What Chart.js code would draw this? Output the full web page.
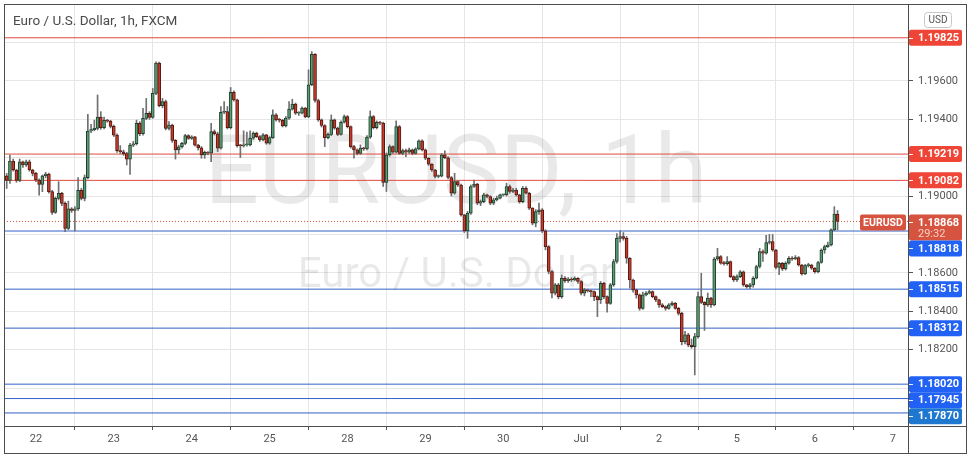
<!DOCTYPE html>
<html>
<head>
<meta charset="utf-8">
<script src="https://cdn.jsdelivr.net/npm/chart.js@4.4.0/dist/chart.umd.min.js"></script>
<style>
  html, body { margin: 0; padding: 0; background: #fff; }
  #wrap { width: 973px; height: 458px; position: relative; }
</style>
</head>
<body>
<div id="wrap"><canvas id="chart" width="973" height="458"></canvas></div>
<script>
// EUR/USD hourly candles, 21 Jun 15:00 -> 6 Jul 08:00 (weekend hours skipped)
var opens = [
1.19106,1.19082,1.19183,1.19136,1.19082,1.19179,1.19162,1.19179,1.19136,1.19118,
1.19084,1.19061,1.19106,1.19115,1.19023,1.18915,1.18988,1.19014,1.18962,1.18832,
1.18933,1.18926,1.18933,1.19030,1.18988,1.19096,1.19339,1.19346,1.19353,1.19412,
1.19356,1.19395,1.19391,1.19363,1.19318,1.19237,1.19231,1.19221,1.19193,1.19266,
1.19273,1.19379,1.19325,1.19405,1.19431,1.19410,1.19535,1.19693,1.19471,1.19492,
1.19353,1.19370,1.19290,1.19240,1.19257,1.19275,1.19315,1.19301,1.19309,1.19266,
1.19252,1.19214,1.19228,1.19224,1.19336,1.19325,1.19250,1.19437,1.19441,1.19357,
1.19541,1.19501,1.19263,1.19262,1.19267,1.19267,1.19302,1.19328,1.19310,1.19293,
1.19319,1.19276,1.19305,1.19423,1.19397,1.19395,1.19366,1.19406,1.19453,1.19479,
1.19432,1.19432,1.19458,1.19413,1.19580,1.19739,1.19498,1.19397,1.19368,1.19305,
1.19322,1.19397,1.19354,1.19322,1.19385,1.19415,1.19362,1.19258,1.19241,1.19223,
1.19250,1.19246,1.19307,1.19415,1.19357,1.19385,1.19380,1.19071,1.19215,1.19258,
1.19229,1.19362,1.19223,1.19237,1.19229,1.19241,1.19223,1.19246,1.19288,1.19241,
1.19197,1.19166,1.19136,1.19102,1.19104,1.19215,1.19200,1.19097,1.19015,1.19076,
1.19058,1.18902,1.18819,1.18911,1.19050,1.19062,1.18963,1.18971,1.19006,1.18998,
1.18963,1.18980,1.18989,1.19006,1.19006,1.19050,1.19024,1.19032,1.19006,1.18971,
1.19041,1.19015,1.18937,1.18859,1.18919,1.18928,1.18819,1.18737,1.18607,1.18494,
1.18537,1.18476,1.18572,1.18559,1.18568,1.18563,1.18572,1.18555,1.18494,1.18511,
1.18506,1.18502,1.18476,1.18459,1.18546,1.18476,1.18441,1.18537,1.18659,1.18780,
1.18789,1.18780,1.18676,1.18563,1.18511,1.18485,1.18415,1.18485,1.18494,1.18502,
1.18476,1.18459,1.18433,1.18424,1.18415,1.18433,1.18442,1.18415,1.18389,1.18242,
1.18277,1.18224,1.18216,1.18268,1.18476,1.18446,1.18433,1.18468,1.18433,1.18672,
1.18685,1.18650,1.18648,1.18659,1.18580,1.18563,1.18580,1.18606,1.18537,1.18528,
1.18537,1.18572,1.18633,1.18711,1.18702,1.18758,1.18763,1.18719,1.18628,1.18650,
1.18620,1.18650,1.18676,1.18672,1.18680,1.18641,1.18594,1.18638,1.18641,1.18624,
1.18606,1.18654,1.18719,1.18737,1.18745,1.18824,1.18906
];
var highs = [
1.19118,1.19214,1.19193,1.19140,1.19193,1.19183,1.19188,1.19188,1.19140,1.19124,
1.19090,1.19110,1.19124,1.19120,1.19030,1.18995,1.19075,1.19020,1.18970,1.18974,
1.18940,1.18945,1.19096,1.19040,1.19110,1.19426,1.19374,1.19396,1.19527,1.19440,
1.19412,1.19400,1.19395,1.19370,1.19325,1.19263,1.19240,1.19228,1.19275,1.19285,
1.19396,1.19388,1.19457,1.19509,1.19440,1.19561,1.19700,1.19698,1.19509,1.19500,
1.19388,1.19375,1.19295,1.19265,1.19280,1.19322,1.19320,1.19315,1.19312,1.19270,
1.19258,1.19235,1.19232,1.19379,1.19345,1.19333,1.19467,1.19493,1.19467,1.19566,
1.19548,1.19505,1.19270,1.19340,1.19333,1.19340,1.19335,1.19333,1.19315,1.19326,
1.19322,1.19310,1.19449,1.19430,1.19405,1.19400,1.19415,1.19493,1.19505,1.19485,
1.19440,1.19465,1.19462,1.19658,1.19753,1.19742,1.19505,1.19402,1.19372,1.19330,
1.19423,1.19402,1.19360,1.19392,1.19423,1.19420,1.19366,1.19265,1.19246,1.19267,
1.19255,1.19315,1.19444,1.19420,1.19392,1.19390,1.19385,1.19225,1.19267,1.19262,
1.19392,1.19368,1.19245,1.19245,1.19250,1.19246,1.19252,1.19293,1.19293,1.19246,
1.19200,1.19170,1.19140,1.19110,1.19223,1.19236,1.19206,1.19102,1.19119,1.19080,
1.19062,1.18905,1.18920,1.19058,1.19084,1.19067,1.18980,1.19015,1.19010,1.19002,
1.18990,1.19000,1.19010,1.19010,1.19067,1.19058,1.19040,1.19041,1.19010,1.19050,
1.19050,1.19020,1.18940,1.18930,1.18963,1.18935,1.18825,1.18742,1.18612,1.18545,
1.18545,1.18589,1.18580,1.18576,1.18575,1.18580,1.18576,1.18560,1.18520,1.18515,
1.18510,1.18506,1.18480,1.18555,1.18550,1.18480,1.18545,1.18670,1.18805,1.18819,
1.18810,1.18790,1.18680,1.18568,1.18515,1.18490,1.18500,1.18502,1.18511,1.18506,
1.18480,1.18463,1.18440,1.18428,1.18440,1.18450,1.18446,1.18420,1.18395,1.18295,
1.18285,1.18255,1.18285,1.18500,1.18598,1.18450,1.18495,1.18472,1.18680,1.18728,
1.18690,1.18660,1.18685,1.18662,1.18585,1.18590,1.18612,1.18610,1.18540,1.18545,
1.18580,1.18640,1.18728,1.18720,1.18795,1.18800,1.18800,1.18722,1.18655,1.18655,
1.18658,1.18685,1.18685,1.18690,1.18685,1.18645,1.18645,1.18650,1.18645,1.18628,
1.18660,1.18725,1.18745,1.18760,1.18830,1.18945,1.18925
];
var lows = [
1.19040,1.19066,1.19130,1.19072,1.19075,1.19150,1.19155,1.19130,1.19105,1.19075,
1.19005,1.19023,1.19095,1.19015,1.18905,1.18910,1.18980,1.18950,1.18814,1.18825,
1.18915,1.18818,1.18925,1.18980,1.18975,1.19090,1.19330,1.19340,1.19345,1.19348,
1.19350,1.19385,1.19355,1.19310,1.19228,1.19222,1.19212,1.19162,1.19113,1.19258,
1.19266,1.19315,1.19318,1.19398,1.19400,1.19405,1.19528,1.19465,1.19460,1.19345,
1.19345,1.19280,1.19193,1.19221,1.19250,1.19268,1.19295,1.19295,1.19260,1.19240,
1.19197,1.19197,1.19215,1.19179,1.19318,1.19232,1.19245,1.19430,1.19350,1.19350,
1.19495,1.19255,1.19201,1.19255,1.19260,1.19262,1.19295,1.19305,1.19285,1.19288,
1.19270,1.19270,1.19300,1.19390,1.19385,1.19360,1.19360,1.19400,1.19448,1.19425,
1.19420,1.19428,1.19408,1.19408,1.19575,1.19490,1.19390,1.19360,1.19258,1.19298,
1.19315,1.19348,1.19315,1.19318,1.19380,1.19355,1.19250,1.19197,1.19215,1.19218,
1.19238,1.19240,1.19300,1.19350,1.19350,1.19372,1.19050,1.19024,1.19208,1.19222,
1.19225,1.19218,1.19215,1.19205,1.19222,1.19215,1.19218,1.19240,1.19235,1.19190,
1.19160,1.19128,1.19095,1.19095,1.19100,1.19195,1.19090,1.19000,1.19010,1.19050,
1.18895,1.18810,1.18780,1.18905,1.19045,1.18955,1.18950,1.18965,1.18990,1.18955,
1.18955,1.18975,1.18985,1.19000,1.19000,1.19015,1.19018,1.19000,1.18963,1.18965,
1.19010,1.18930,1.18850,1.18840,1.18905,1.18810,1.18720,1.18595,1.18470,1.18485,
1.18465,1.18468,1.18550,1.18550,1.18555,1.18558,1.18545,1.18485,1.18480,1.18500,
1.18476,1.18455,1.18372,1.18440,1.18465,1.18395,1.18436,1.18530,1.18650,1.18760,
1.18770,1.18650,1.18520,1.18500,1.18468,1.18405,1.18410,1.18480,1.18490,1.18470,
1.18450,1.18420,1.18418,1.18405,1.18410,1.18428,1.18410,1.18380,1.18225,1.18230,
1.18215,1.18207,1.18068,1.18260,1.18440,1.18300,1.18425,1.18420,1.18428,1.18665,
1.18645,1.18640,1.18640,1.18575,1.18555,1.18555,1.18575,1.18530,1.18520,1.18518,
1.18525,1.18568,1.18625,1.18660,1.18698,1.18750,1.18712,1.18620,1.18590,1.18612,
1.18615,1.18645,1.18665,1.18668,1.18635,1.18588,1.18590,1.18630,1.18618,1.18598,
1.18600,1.18650,1.18702,1.18732,1.18740,1.18820,1.18824
];
var closes = [
1.19082,1.19183,1.19136,1.19082,1.19179,1.19162,1.19179,1.19136,1.19118,1.19084,
1.19061,1.19106,1.19115,1.19023,1.18915,1.18988,1.19014,1.18962,1.18832,1.18933,
1.18926,1.18933,1.19030,1.18988,1.19096,1.19339,1.19346,1.19353,1.19412,1.19356,
1.19395,1.19391,1.19363,1.19318,1.19237,1.19231,1.19221,1.19193,1.19266,1.19273,
1.19379,1.19325,1.19405,1.19431,1.19410,1.19535,1.19693,1.19471,1.19492,1.19353,
1.19370,1.19290,1.19240,1.19257,1.19275,1.19315,1.19301,1.19309,1.19266,1.19252,
1.19214,1.19228,1.19224,1.19336,1.19325,1.19250,1.19437,1.19441,1.19357,1.19541,
1.19501,1.19263,1.19262,1.19267,1.19267,1.19302,1.19328,1.19310,1.19293,1.19319,
1.19276,1.19305,1.19423,1.19397,1.19395,1.19366,1.19406,1.19453,1.19479,1.19432,
1.19432,1.19458,1.19413,1.19580,1.19739,1.19498,1.19397,1.19368,1.19305,1.19322,
1.19397,1.19354,1.19322,1.19385,1.19415,1.19362,1.19258,1.19241,1.19223,1.19250,
1.19246,1.19307,1.19415,1.19357,1.19385,1.19380,1.19071,1.19215,1.19258,1.19229,
1.19362,1.19223,1.19237,1.19229,1.19241,1.19223,1.19246,1.19288,1.19241,1.19197,
1.19166,1.19136,1.19102,1.19104,1.19215,1.19200,1.19097,1.19015,1.19076,1.19058,
1.18902,1.18819,1.18911,1.19050,1.19062,1.18963,1.18971,1.19006,1.18998,1.18963,
1.18980,1.18989,1.19006,1.19006,1.19050,1.19024,1.19032,1.19006,1.18971,1.19041,
1.19015,1.18937,1.18859,1.18919,1.18928,1.18819,1.18737,1.18607,1.18494,1.18537,
1.18476,1.18572,1.18559,1.18568,1.18563,1.18572,1.18555,1.18494,1.18511,1.18506,
1.18502,1.18476,1.18459,1.18546,1.18476,1.18441,1.18537,1.18659,1.18780,1.18789,
1.18780,1.18676,1.18563,1.18511,1.18485,1.18415,1.18485,1.18494,1.18502,1.18476,
1.18459,1.18433,1.18424,1.18415,1.18433,1.18442,1.18415,1.18389,1.18242,1.18277,
1.18224,1.18216,1.18268,1.18476,1.18446,1.18433,1.18468,1.18433,1.18672,1.18685,
1.18650,1.18648,1.18659,1.18580,1.18563,1.18580,1.18606,1.18537,1.18528,1.18537,
1.18572,1.18633,1.18711,1.18702,1.18758,1.18763,1.18719,1.18628,1.18650,1.18620,
1.18650,1.18676,1.18672,1.18680,1.18641,1.18594,1.18638,1.18641,1.18624,1.18606,
1.18654,1.18719,1.18737,1.18745,1.18824,1.18906,1.18868
];

// day ticks (candle index of 00:00) and their labels
var dayIdx = [9, 33, 57, 81, 105, 129, 153, 177, 201, 225, 249, 273];
var dayLabels = ['22', '23', '24', '25', '28', '29', '30', 'Jul', '2', '5', '6', '7'];
var priceTicks = [1.180, 1.182, 1.184, 1.186, 1.188, 1.190, 1.192, 1.194, 1.196, 1.198];

// horizontal levels
var redLevels = [1.19825, 1.19219, 1.19082];
var blueLevels = [1.18818, 1.18515, 1.18312, 1.18020, 1.17945, 1.17870];
var lastPrice = 1.18868;
var countdown = '29:32';
var symbol = 'EURUSD';
var title = 'Euro / U.S. Dollar, 1h, FXCM';
var watermark = ['EURUSD, 1h', 'Euro / U.S. Dollar'];

var FONT = 'Roboto, "Liberation Sans", Arial, sans-serif';
var X_MIN = -0.83, X_MAX = 277.7;
var UP = '#5a9c75', UP_EDGE = '#1f3f2c';
var DOWN = '#c23b2c', DOWN_EDGE = '#561810';
var RED_LINE = '#e04a3d', BLUE_LINE = '#3461c8';
var blueBox = ['#2161f3', '#2161f3', '#2161f3', '#2161f3', '#2161f3', '#1f78d0'];

function isUp(i) { return closes[i] >= opens[i]; }

function levelSet(v, color, dash) {
  return {
    type: 'line',
    data: [{x: X_MIN, y: v}, {x: X_MAX, y: v}],
    borderColor: color,
    borderWidth: 1,
    borderDash: dash || [],
    pointRadius: 0,
    order: 5
  };
}

var datasets = [];
redLevels.forEach(function (v) { datasets.push(levelSet(v, RED_LINE)); });
blueLevels.forEach(function (v) { datasets.push(levelSet(v, BLUE_LINE)); });
datasets.push(levelSet(lastPrice, '#d6533f', [1, 2]));

// wicks
datasets.push({
  type: 'bar',
  data: closes.map(function (c, i) { return {x: i, y: [lows[i], highs[i]]}; }),
  backgroundColor: '#707070',
  barThickness: 1,
  grouped: false,
  order: 1
});
// bodies
datasets.push({
  type: 'bar',
  data: closes.map(function (c, i) { return {x: i, y: [opens[i], c]}; }),
  backgroundColor: function (ctx) { return isUp(ctx.dataIndex) ? UP : DOWN; },
  borderColor: function (ctx) { return isUp(ctx.dataIndex) ? UP_EDGE : DOWN_EDGE; },
  borderWidth: 1,
  borderSkipped: false,
  barThickness: 3,
  minBarLength: 1,
  grouped: false,
  order: 0
});

function hiddenTick(v) {
  var all = redLevels.concat(blueLevels, [lastPrice]);
  return all.some(function (l) { return Math.abs(l - v) < 0.0006; });
}

function box(ctx, x, y, w, h, color) {
  ctx.fillStyle = color;
  ctx.beginPath();
  ctx.roundRect(x, y, w, h, 2);
  ctx.fill();
}

var overlay = {
  id: 'overlay',
  beforeDatasetsDraw: function (chart) {
    var ctx = chart.ctx, a = chart.chartArea;
    ctx.save();
    ctx.beginPath();
    ctx.rect(a.left, a.top, a.right - a.left, a.bottom - a.top);
    ctx.clip();
    ctx.fillStyle = 'rgba(0,0,0,0.085)';
    ctx.textAlign = 'center';
    ctx.textBaseline = 'alphabetic';
    var cx = (a.left + a.right) / 2;
    ctx.font = '96px ' + FONT;
    ctx.fillText(watermark[0], cx, 203);
    ctx.font = '42px ' + FONT;
    ctx.fillText(watermark[1], cx, 287);
    ctx.restore();
  },
  afterDraw: function (chart) {
    var ctx = chart.ctx, a = chart.chartArea, ys = chart.scales.y;
    ctx.save();

    // frame
    ctx.strokeStyle = '#4d4d4d';
    ctx.lineWidth = 1;
    ctx.strokeRect(4.5, 4.5, 962, 449);
    ctx.beginPath();
    ctx.moveTo(a.right + 0.5, a.bottom); ctx.lineTo(a.right + 0.5, 453);
    ctx.moveTo(a.right, a.bottom + 0.5); ctx.lineTo(966, a.bottom + 0.5);
    ctx.stroke();

    // title
    ctx.fillStyle = '#4a4a4a';
    ctx.font = '13.5px ' + FONT;
    ctx.textAlign = 'left';
    ctx.textBaseline = 'middle';
    ctx.fillText(title, 13, 22);

    // currency badge
    ctx.fillStyle = '#fff';
    ctx.strokeStyle = '#c8c8c8';
    ctx.beginPath();
    ctx.roundRect(924.5, 12.5, 27, 15, 3);
    ctx.fill(); ctx.stroke();
    ctx.fillStyle = '#555';
    ctx.font = '10px ' + FONT;
    ctx.textAlign = 'center';
    ctx.fillText('USD', 938, 20.5);

    // price labels on the axis
    var items = [];
    redLevels.forEach(function (v) { items.push({v: v, color: '#ee4537', h: 16, off: 8}); });
    blueLevels.forEach(function (v, i) { items.push({v: v, color: blueBox[i], h: 16, off: 8}); });
    items.push({v: lastPrice, color: '#d6533f', h: 26, off: 7, last: true});
    items.forEach(function (it) { it.py = ys.getPixelForValue(it.v); it.top = it.py - it.off; });
    items.sort(function (p, q) { return p.top - q.top; });
    for (var i = 1; i < items.length; i++) {
      var p = items[i - 1];
      if (items[i].top < p.top + p.h) items[i].top = p.top + p.h;
    }
    items.forEach(function (it) {
      var x = a.right + 1;
      box(ctx, x, it.top, 53, it.h, it.color);
      ctx.strokeStyle = 'rgba(255,255,255,0.9)';
      ctx.beginPath();
      ctx.moveTo(x, Math.round(it.top + 8) + 0.5);
      ctx.lineTo(x + 4, Math.round(it.top + 8) + 0.5);
      ctx.stroke();
      ctx.fillStyle = '#fff';
      ctx.font = 'bold 11px ' + FONT;
      ctx.textAlign = 'left';
      ctx.textBaseline = 'middle';
      ctx.fillText(it.v.toFixed(5), a.right + 10, it.top + 8.5);
      if (it.last) {
        ctx.fillStyle = '#f7cfc6';
        ctx.font = '11px ' + FONT;
        ctx.fillText(countdown, a.right + 10, it.top + 20);
        box(ctx, a.right - 48, it.top, 46, 16, it.color);
        ctx.fillStyle = '#fff';
        ctx.font = 'bold 10.5px ' + FONT;
        ctx.textAlign = 'center';
        ctx.fillText(symbol, a.right - 25, it.top + 8.5);
      }
    });
    ctx.restore();
  }
};

new Chart(document.getElementById('chart'), {
  type: 'bar',
  data: { datasets: datasets },
  options: {
    responsive: false,
    animation: false,
    events: [],
    layout: { padding: { left: 4, top: 4, right: 7, bottom: 5 } },
    plugins: { legend: { display: false }, tooltip: { enabled: false } },
    scales: {
      x: {
        type: 'linear',
        min: X_MIN,
        max: X_MAX,
        offset: false,
        afterBuildTicks: function (s) { s.ticks = dayIdx.map(function (v) { return {value: v}; }); },
        afterFit: function (s) { s.height = 27; s.paddingLeft = 0; s.paddingRight = 0; },
        ticks: {
          autoSkip: false,
          maxRotation: 0,
          padding: 3,
          color: '#555',
          font: { family: FONT, size: 11 },
          callback: function (v, i) { return dayLabels[i]; }
        },
        grid: { color: '#e6e6e6', tickColor: '#555', tickLength: 4 },
        border: { color: '#4d4d4d' }
      },
      y: {
        position: 'right',
        min: 1.17802,
        max: 1.20001,
        afterBuildTicks: function (s) { s.ticks = priceTicks.map(function (v) { return {value: v}; }); },
        afterFit: function (s) { s.width = 58; s.paddingTop = 0; s.paddingBottom = 0; },
        ticks: {
          padding: 5,
          color: '#555',
          font: { family: FONT, size: 11 },
          callback: function (v) { return hiddenTick(v) ? '' : v.toFixed(5); }
        },
        grid: { color: '#e6e6e6', tickColor: '#555', tickLength: 5 },
        border: { color: '#4d4d4d' }
      }
    }
  },
  plugins: [overlay]
});
</script>
</body>
</html>
